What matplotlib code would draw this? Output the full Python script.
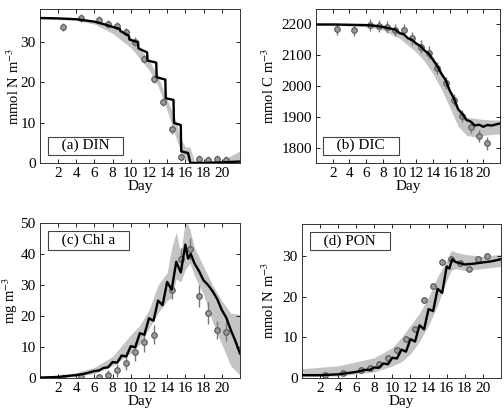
import matplotlib
matplotlib.use("Agg")
import matplotlib.pyplot as plt
import numpy as np

plt.rcParams['font.family'] = ['Liberation Serif', 'DejaVu Serif']
plt.rcParams['mathtext.fontset'] = 'stix'
plt.rcParams['font.size'] = 11

obs_days = [2.5, 4.5, 6.5, 7.5, 8.5, 9.5, 10.5, 11.5, 12.5, 13.5, 14.5, 15.5, 16.5, 17.5, 18.5, 19.5, 20.5]

# ---- (a) DIN ----
din_t = [0, 2, 4, 6, 7, 8, 8.8, 8.85, 9.8, 9.85, 10.8, 10.85, 11.8, 11.85, 12.8, 12.85,
         13.8, 13.85, 14.7, 14.75, 15.5, 15.55, 16.3, 16.55, 18, 20, 22]
din_model = [35.8, 35.7, 35.5, 34.9, 34.3, 33.6, 33.1, 32.6, 31.4, 30.5, 29.8, 28.3, 27.3, 25.3,
             24.8, 21.2, 20.6, 16.0, 15.6, 9.9, 9.4, 2.9, 2.5, 0.05, 0.05, 0.2, 0.4]
din_band_t = [0, 4, 6, 8, 10, 12, 13, 14, 15, 15.5, 16, 16.5, 17, 18, 20, 21, 22]
din_lo = [35.6, 35.2, 34.3, 32.0, 28.5, 23.0, 19.0, 13.0, 6.0, 3.0, 1.0, 0.0, 0.0, 0.0, 0.0, 0.0, 0.0]
din_hi = [35.9, 35.7, 35.1, 33.9, 31.0, 25.5, 21.3, 15.8, 10.0, 6.0, 4.0, 4.0, 0.5, 0.4, 0.7, 1.8, 3.0]
din_obs = [33.6, 35.7, 35.3, 34.4, 33.8, 32.3, 30.0, 25.6, 20.8, 15.0, 8.3, 1.5, np.nan, 1.0, 0.7, 1.0, 0.7]
din_err = [1.0] * 17

# ---- (b) DIC ----
dic_t = [0, 2, 4, 6, 7, 8, 9, 9.5, 10, 10.5, 11, 11.5, 12, 12.5, 13, 13.5, 14, 14.5, 15, 15.5,
         16, 16.5, 17, 17.5, 18, 18.5, 19, 19.5, 20, 20.5, 21, 22]
dic_model = [2200, 2200, 2199, 2198, 2196, 2192, 2186, 2183, 2172, 2168, 2155, 2150, 2138, 2130,
             2115, 2105, 2085, 2065, 2040, 2020, 1985, 1960, 1925, 1910, 1890, 1885, 1872, 1875,
             1868, 1874, 1872, 1879]
dic_band_t = [0, 4, 6, 8, 10, 12, 13, 14, 15, 16, 17, 18, 19, 20, 21, 22]
dic_lo = [2198, 2195, 2192, 2182, 2155, 2110, 2080, 2040, 1990, 1930, 1870, 1840, 1835, 1840, 1843, 1845]
dic_hi = [2201, 2200, 2199, 2196, 2175, 2140, 2118, 2095, 2050, 1990, 1920, 1900, 1895, 1892, 1890, 1890]
dic_obs = [2185, 2182, 2198, 2195, 2192, 2182, 2182, 2155, 2128, 2109, 2058, 2010, 1956, 1902, 1868, 1838, 1814]
dic_err = [20] * 17

# ---- (c) Chl a ----
chl_t = [0, 2, 4, 5, 6, 6.5, 7, 7.5, 8, 8.5, 9, 9.5, 10, 10.5, 11, 11.5, 12, 12.5, 13, 13.5,
         14, 14.5, 15, 15.5, 16, 16.3, 16.6, 17, 17.5, 18, 18.5, 19, 19.5, 20, 20.5, 21, 21.5, 22]
chl_model = [0.2, 0.4, 1.0, 1.5, 2.3, 2.5, 3.3, 3.5, 5.2, 5.0, 7.3, 7.0, 10.3, 10.0, 14.5, 14.0,
             19.3, 18.5, 25.0, 23.5, 31.0, 28.5, 37.5, 34.0, 43.0, 38.5, 40.0, 37.0, 34.5, 31.5,
             30.0, 28.0, 25.5, 22.0, 19.5, 15.5, 12.0, 8.0]
chl_band_t = [0, 2, 4, 6, 8, 10, 11, 12, 13, 14, 14.5, 15, 15.5, 16, 16.5, 17, 18, 19, 20, 21, 22]
chl_lo = [0.0, 0.2, 0.6, 1.5, 4.0, 8.0, 11.0, 16.0, 21.0, 25.0, 26.0, 32.0, 31.0, 35.0, 37.0, 33.0, 27.0, 18.0, 11.0, 4.0, 1.0]
chl_hi = [0.5, 1.0, 1.8, 3.5, 7.0, 14.0, 17.0, 22.0, 30.0, 34.0, 42.0, 47.0, 40.0, 51.0, 48.0, 42.0, 36.0, 30.0, 25.0, 21.0, 20.5]
chl_obs = [0.2, 0.3, 0.3, 1.0, 2.5, 5.0, 8.5, 11.5, 14.0, np.nan, 28.5, 38.3, 41.7, 26.5, 21.0, 15.5, 15.0]
chl_err = [1.0, 1.0, 1.0, 1.5, 2.0, 2.5, 3.0, 3.0, 3.0, 3.0, 3.0, 3.5, 3.5, 3.5, 3.5, 3.0, 3.0]

# ---- (d) PON ----
pon_t = [0, 2, 4, 6, 7, 7.5, 8, 8.5, 9, 9.5, 10, 10.5, 11, 11.5, 12, 12.5, 13, 13.5, 14, 14.5,
         15, 15.5, 16, 16.3, 16.6, 17, 18, 19, 20, 21, 22]
pon_model = [0.7, 0.7, 0.9, 1.5, 2.0, 2.0, 2.6, 2.5, 3.6, 3.4, 5.0, 4.8, 7.0, 6.5, 9.6, 9.0,
             13.0, 12.0, 17.0, 16.5, 22.0, 21.0, 27.5, 27.0, 29.3, 28.6, 28.0, 28.2, 28.5, 28.8, 29.3]
pon_band_t = [0, 4, 6, 8, 10, 11, 12, 13, 14, 15, 16, 16.5, 17, 18, 20, 22]
pon_lo = [0.3, 0.5, 1.0, 1.5, 3.0, 4.0, 6.0, 9.0, 13.0, 18.0, 24.0, 26.5, 27.0, 26.5, 27.0, 27.5]
pon_hi = [2.3, 3.0, 4.0, 5.0, 7.5, 10.0, 13.0, 16.0, 20.0, 25.0, 29.0, 31.5, 31.0, 30.5, 30.0, 30.5]
pon_obs = [0.8, 1.3, 2.0, 2.5, 3.5, 5.0, 7.0, 9.5, 12.0, 19.2, 22.6, 28.6, 29.3, 28.3, 27.0, 29.3, 30.2]
pon_err = [0.7] * 17

xticks = [2, 4, 6, 8, 10, 12, 14, 16, 18, 20]

fig = plt.figure(figsize=(5.04, 4.12), dpi=100)

panels = [
    dict(pos=[0.079, 0.604, 0.397, 0.374], t=din_t, m=din_model, bt=din_band_t, lo=din_lo, hi=din_hi,
         o=din_obs, e=din_err, ylim=(0, 38), yt=[0, 10, 20, 30], yl='mmol N m$^{-3}$',
         lab='(a) DIN', lab_loc='lower', ylx=-0.09),
    dict(pos=[0.627, 0.604, 0.365, 0.374], t=dic_t, m=dic_model, bt=dic_band_t, lo=dic_lo, hi=dic_hi,
         o=dic_obs, e=dic_err, ylim=(1750, 2250), yt=[1800, 1900, 2000, 2100, 2200], yl='mmol C m$^{-3}$',
         lab='(b) DIC', lab_loc='lower', ylx=-0.21),
    dict(pos=[0.079, 0.082, 0.397, 0.377], t=chl_t, m=chl_model, bt=chl_band_t, lo=chl_lo, hi=chl_hi,
         o=chl_obs, e=chl_err, ylim=(0, 50), yt=[0, 10, 20, 30, 40, 50], yl='mg m$^{-3}$',
         lab='(c) Chl a', lab_loc='upper', ylx=-0.10),
    dict(pos=[0.599, 0.0825, 0.395, 0.374], t=pon_t, m=pon_model, bt=pon_band_t, lo=pon_lo, hi=pon_hi,
         o=pon_obs, e=pon_err, ylim=(0, 38), yt=[0, 10, 20, 30], yl='mmol N m$^{-3}$',
         lab='(d) PON', lab_loc='upper', ylx=-0.126),
]

for p in panels:
    ax = fig.add_axes(p['pos'])
    ax.fill_between(p['bt'], p['lo'], p['hi'], color='#c4c4c4', lw=0, zorder=1)
    ax.errorbar(obs_days, p['o'], yerr=p['e'], fmt='o', ms=4, mfc='#9a9a9a', mec='#555555',
                mew=0.8, ecolor='#777777', elinewidth=1.0, capsize=0, zorder=2)
    ax.plot(p['t'], p['m'], color='black', lw=1.7, zorder=3)
    ax.set_xlim(0, 22)
    ax.set_ylim(*p['ylim'])
    ax.set_xticks(xticks)
    ax.set_yticks(p['yt'])
    ax.tick_params(direction='in', top=True, right=True, length=3, width=0.6, labelsize=11, pad=3)
    for s in ax.spines.values():
        s.set_linewidth(0.7)
        s.set_color('#333333')
    ax.set_xlabel('Day', fontsize=11, labelpad=0)
    ax.set_ylabel(p['yl'], fontsize=10.5)
    ax.yaxis.set_label_coords(p['ylx'], 0.5)
    if p['lab_loc'] == 'lower':
        ax.text(0.05, 0.07, '   ' + p['lab'] + '   ', transform=ax.transAxes, fontsize=11,
                ha='left', va='bottom', zorder=5,
                bbox=dict(boxstyle='square,pad=0.15', fc='white', ec='#444444', lw=0.8))
    else:
        ax.text(0.05, 0.93, '   ' + p['lab'] + '   ', transform=ax.transAxes, fontsize=11,
                ha='left', va='top', zorder=5,
                bbox=dict(boxstyle='square,pad=0.15', fc='white', ec='#444444', lw=0.8))

fig.savefig('out.png', dpi=100)
